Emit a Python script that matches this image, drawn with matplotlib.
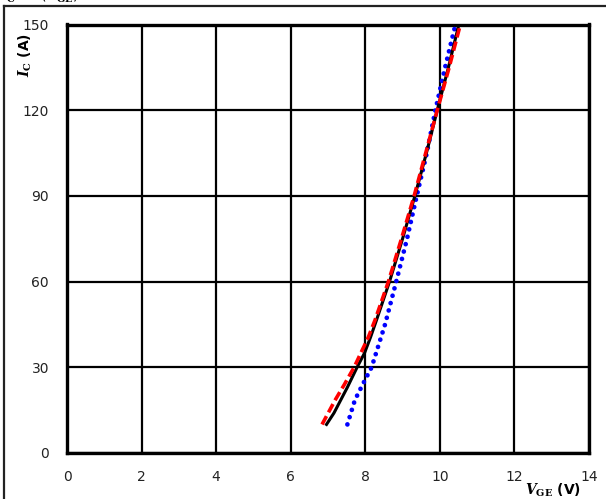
import matplotlib
matplotlib.use('Agg')
import matplotlib.pyplot as plt
from matplotlib.lines import Line2D

plt.rcParams['font.family'] = 'DejaVu Sans'
plt.rcParams['mathtext.fontset'] = 'custom'
plt.rcParams['mathtext.rm'] = 'DejaVu Serif:bold'
plt.rcParams['mathtext.it'] = 'DejaVu Serif:italic:bold'
plt.rcParams['mathtext.bf'] = 'DejaVu Serif:bold'

# transfer characteristic I_C = f(V_GE)
vge_black = [6.96, 7.16, 7.34, 7.52, 7.78, 7.98, 8.14, 8.30, 8.65, 9.00, 9.33, 9.64, 9.93, 10.23, 10.51]
ic_black = [10, 14, 18.5, 23, 30, 35, 40.5, 46.5, 60, 75, 90, 105, 120, 135, 150]

vge_red = [6.84, 7.19, 7.44, 7.70, 8.08, 8.26, 8.62, 8.97, 9.31, 9.62, 9.93, 10.25, 10.55]
ic_red = [10, 18.5, 24, 30, 40.5, 46.5, 60, 75, 90, 105, 120, 135, 150]

vge_blue = [7.52, 7.72, 7.93, 8.17, 8.53, 8.83, 9.12, 9.38, 9.65, 9.88, 10.14, 10.42]
ic_blue = [10, 18.5, 24, 30, 45, 60, 75, 90, 105, 120, 135, 150]

xticks = [0, 2, 4, 6, 8, 10, 12, 14]
yticks = [0, 30, 60, 90, 120, 150]

fig = plt.figure(figsize=(6.06, 4.99), dpi=100)
ax = fig.add_axes([67/606, 1-453/499, 522/606, 428.5/499])

ax.plot(vge_blue, ic_blue, color='#0000ff', lw=3.4, linestyle=(0, (0.01, 1.6)),
        dash_capstyle='round', zorder=3)
ax.plot(vge_black, ic_black, color='black', lw=2.2, solid_joinstyle='round', zorder=4)
ax.plot(vge_red, ic_red, color='#ff0000', lw=2.6, linestyle=(0, (2.6, 1.2)), zorder=5)

ax.set_xlim(0, 14)
ax.set_ylim(0, 150)
ax.set_xticks(xticks)
ax.set_yticks(yticks)
ax.grid(True, color='black', lw=1.6)
ax.set_axisbelow(True)
for s in ax.spines.values():
    s.set_linewidth(2.4)
ax.tick_params(length=0, labelsize=10, labelcolor='#222222')
ax.tick_params(axis='y', pad=13)
ax.tick_params(axis='x', pad=12)

fig.text(25/606, 1-55/499, r'$I_\mathrm{C}$ (A)', rotation=90, ha='center', va='center',
         fontsize=10, fontweight='bold')
fig.text(581/606, 1-490/499, r'$V_\mathrm{GE}$ (V)', ha='right', va='center',
         fontsize=10, fontweight='bold')
# title mostly cut off at the top edge
fig.text(0/606, 1-1/499, r'$I_\mathrm{C}$ = f($V_\mathrm{GE}$)', ha='left', va='baseline',
         fontsize=10)

# outer frame
fig.add_artist(Line2D([4/606, 4/606], [0, 1-6/499], color='#222222', lw=1.6))
fig.add_artist(Line2D([4/606, 1], [1-6/499, 1-6/499], color='#222222', lw=1.6))

fig.savefig('out.png', dpi=100)
